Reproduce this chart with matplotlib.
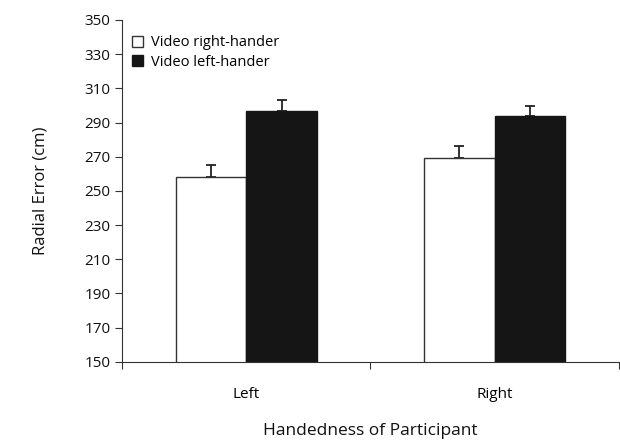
import numpy as np
import matplotlib.pyplot as plt

groups = ["Left", "Right"]
series = ["Video right-hander", "Video left-hander"]
right_hander = [258, 269]
left_hander = [297, 294]
right_err = [7, 7]
left_err = [6, 5.5]

plt.rcParams['font.family'] = ['Open Sans', 'DejaVu Sans']

fig = plt.figure(figsize=(6.2, 4.44), dpi=100)
ax = fig.add_axes([0.197, 0.185, 0.801, 0.77])

x = np.arange(len(groups))
w = 0.285
ax.bar(x - w / 2, right_hander, w, color='white', edgecolor='#333333',
       linewidth=1.0, label=series[0], zorder=2)
ax.bar(x + w / 2, left_hander, w, color='#151515', edgecolor='#151515',
       linewidth=1.0, label=series[1], zorder=2)
ax.errorbar(x - w / 2, right_hander, yerr=[np.zeros(2), right_err], fmt='none',
            ecolor='#222222', elinewidth=1.3, capsize=3.5, capthick=1.3, zorder=1)
ax.errorbar(x + w / 2, left_hander, yerr=[np.zeros(2), left_err], fmt='none',
            ecolor='#222222', elinewidth=1.3, capsize=3.5, capthick=1.3, zorder=1)

ax.set_ylim(150, 350)
ax.set_yticks(np.arange(150, 351, 20))
ax.set_xlim(-0.5, 1.5)
ax.set_xticks([-0.5, 0.5, 1.5])
ax.set_xticklabels([])
ax.set_xticks(x, minor=True)
ax.set_xticklabels(groups, minor=True)
ax.tick_params(axis='x', which='minor', length=0, pad=18, labelsize=11)
ax.tick_params(axis='x', which='major', length=5, width=0.8, colors='#333333')
ax.tick_params(axis='y', length=5, width=0.8, labelsize=11, colors='#333333',
               labelcolor='#111111')

for s in ['top', 'right']:
    ax.spines[s].set_visible(False)
for s in ['left', 'bottom']:
    ax.spines[s].set_color('#333333')
    ax.spines[s].set_linewidth(0.8)

ax.set_ylabel("Radial Error (cm)", fontsize=12, labelpad=26, color='#111111')
ax.set_xlabel("Handedness of Participant", fontsize=12.5, labelpad=15, color='#111111')

leg = ax.legend(loc='upper left', frameon=False, fontsize=10.5, handlelength=0.75,
                handleheight=0.75, handletextpad=0.5, borderaxespad=0.3,
                labelspacing=0.3, bbox_to_anchor=(0.0, 0.985))

fig.savefig("out.png", dpi=100)
